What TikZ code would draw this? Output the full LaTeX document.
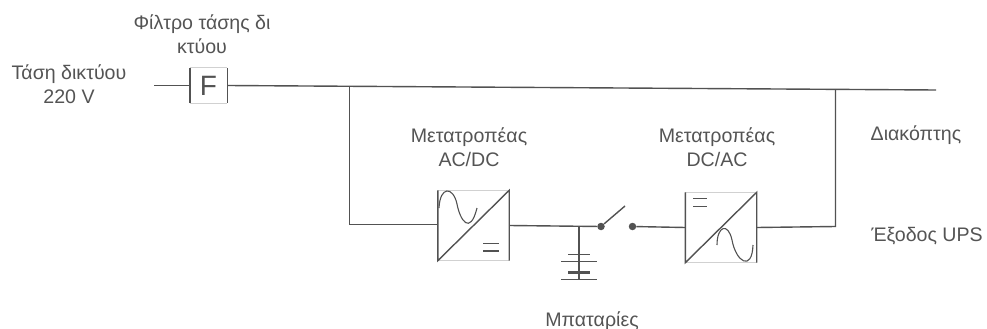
\documentclass[tikz,border=0pt]{standalone}
\usepackage{fontspec}
\setmainfont{Liberation Sans}
\definecolor{ink}{gray}{0.32}
\definecolor{faint}{gray}{0.82}
\definecolor{txt}{gray}{0.33}
\tikzset{
 wire/.style={draw=ink,line width=1.4pt},
 lbl/.style={text=txt,font=\fontsize{19.6pt}{24pt}\selectfont,align=center,inner sep=0pt},
 conv/.style={draw=none,minimum width=71pt,minimum height=70pt,inner sep=0pt},
 dotn/.style={circle,fill=ink,minimum size=7.5pt,inner sep=0pt},
 trace/.style={draw=ink,line width=1.1pt},
 faintline/.style={draw=faint,line width=0.7pt}
}
\begin{document}
\begin{tikzpicture}[x=1pt,y=-1pt]
\useasboundingbox (0,0) rectangle (987,329);
% labels
\node[lbl] (lfilter) at (202,34) {Φίλτρο τάσης δι\\κτύου};
\node[lbl] (lnet) at (69,84) {Τάση δικτύου\\220 V};
\node[lbl] (lacdc) at (469,147) {Μετατροπέας\\AC/DC};
\node[lbl] (ldcac) at (717,147) {Μετατροπέας\\DC/AC};
\node[lbl] (lsw) at (916,135) {Διακόπτης};
\node[lbl] (lout) at (927,236) {Έξοδος UPS};
\node[lbl] (lbat) at (592,321) {Μπαταρίες};
% filter
\node[draw=none,minimum width=37pt,minimum height=35pt,inner sep=0pt,text=ink,font=\fontsize{28pt}{28pt}\selectfont] (F) at (208.5,85.5) {F};
\draw[faintline] (F.north west) -- (F.north east) (F.south west) -- (F.south east);
\draw[wire] (F.north west) -- (F.south west) (F.north east) -- (F.south east);
\coordinate (in) at (154,85.5);
\coordinate (busEnd) at (936,90);
\coordinate (jL) at (349.5,85.8);
\coordinate (jR) at (835.5,89.4);
\draw[wire] (in) -- (F.west);
\draw[wire] (F.east) -- (busEnd);
% converters
\node[conv] (ac) at (473.5,225.5) {};
\node[conv] (dc) at (721,227.5) {};
\draw[faintline] (ac.north west) -- (ac.north east) (ac.south west) -- (ac.south east);
\draw[faintline] (dc.north west) -- (dc.north east) (dc.south west) -- (dc.south east);
\draw[wire] (ac.north west) -- (ac.south west) -- (ac.north east) -- (ac.south east);
\draw[wire] (dc.north west) -- (dc.south west) -- (dc.north east) -- (dc.south east);
% AC/DC symbols
\draw[trace] (439,208) .. controls (440,186) and (453,186) .. (457,204) .. controls (460,220) and (470,236) .. (477,208);
\draw[trace] (483,243.5) -- (499,243.5) (483,251) -- (499,251);
% DC/AC symbols
\draw[trace] (693,198.5) -- (707,198.5) (693,206.5) -- (707,206.5);
\draw[trace] (717,245) .. controls (717,226) and (728,222) .. (732,240) .. controls (736,262) and (752,272) .. (753,245);
% wiring
\coordinate (lc) at (349.5,224.5);
\coordinate (rc) at (835.5,226.5);
\node[dotn] (s1) at (601,226.5) {};
\node[dotn] (s2) at (632.5,226.5) {};
\coordinate (arm) at (625,206);
\coordinate (jB) at (579,226.5);
\coordinate (b1) at (579,261.5);
\coordinate (b2) at (579,279.5);
\draw[wire] (jL) -- (lc) -- (lc -| ac.west);
\draw[wire] (ac.east) -- (s1);
\draw[wire] (s1) -- (arm);
\draw[wire] (s2) -- (dc.west);
\draw[wire] (dc.east) -- (rc) -- (jR);
% battery
\draw[wire] (jB) -- (b1);
\draw[wire] (b1) -- (b2);
\draw[wire] ([xshift=-18pt]b1) -- ([xshift=18pt]b1);
\draw[wire,line width=1.8pt] ([xshift=-11pt,yshift=7pt]b1) -- ([xshift=11pt,yshift=7pt]b1);
\draw[wire] ([xshift=-18pt]b2) -- ([xshift=18pt]b2);
\draw[wire,line width=2.2pt] ([xshift=-11pt,yshift=7pt]b2) -- ([xshift=11pt,yshift=7pt]b2);
\end{tikzpicture}
\end{document}
